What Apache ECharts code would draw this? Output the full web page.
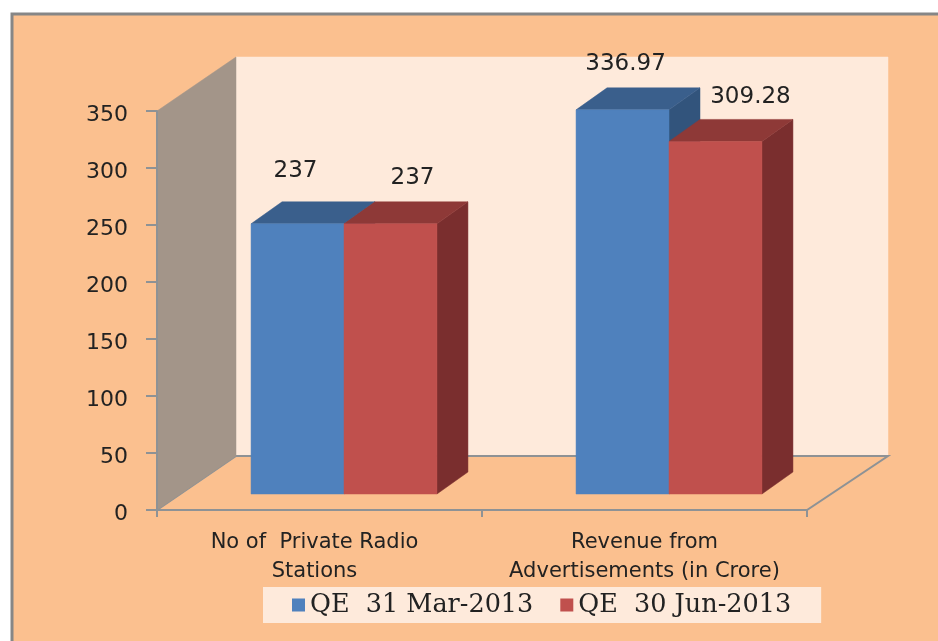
<!DOCTYPE html>
<html><head><meta charset="utf-8">
<style>html,body{margin:0;padding:0;background:#fff}#c{width:938px;height:641px}</style>
<script src="https://cdn.jsdelivr.net/npm/echarts@6/dist/echarts.min.js"></script>
</head><body><div id="c"></div>
<script>
const categories = ['No of  Private Radio\nStations', 'Revenue from\nAdvertisements (in Crore)'];
const seriesNames = ['QE  31 Mar-2013', 'QE  30 Jun-2013'];
const valuesMar = [237, 336.97];
const valuesJun = [237, 309.28];
const yTicks = {min: 0, max: 350, interval: 50};

const WALL = {dxLeft: 79, dxRight: 81, dy: -54};     // full depth of the 3D box
const BAR = {dx: 31, dy: -22, shiftX: 24.5, shiftY: -16, widthRatio: 0.286};
const LABEL_OFFSETS = [
  [[-2, -53], [3, -46]],
  [[22, -46], [35, -44]]
];
const CATEGORY_LABEL_RIGHT_PAD = [10, 0];
const poly = (pts, fill, stroke) => ({
  type: 'polygon', shape: {points: pts},
  style: {fill, stroke: stroke || fill, lineWidth: stroke ? 2 : 0.5}
});

function wallRender(params) {
  const g = params.coordSys, l = g.x, r = g.x + g.width, t = g.y, b = g.y + g.height;
  const dl = WALL.dxLeft, dr = WALL.dxRight, dy = WALL.dy;
  return {type: 'group', children: [
    poly([[l+dl,t+dy],[r+dr,t+dy],[r+dr,b+dy],[l+dl,b+dy]], '#FEEADB'),
    poly([[l,b],[r,b],[r+dr,b+dy],[l+dl,b+dy]], '#FBC08F', '#8E9295'),
    poly([[l,b],[l,t],[l+dl,t+dy],[l+dl,b+dy]], '#A39589')
  ]};
}

function barRender(side, colors) {
  return function (params, api) {
    const i = api.value(0), v = api.value(1);
    const w = api.size([1, 0])[0] * BAR.widthRatio;
    const top = api.coord([i, v]), base = api.coord([i, 0]);
    const x0 = top[0] + BAR.shiftX + (side === 0 ? -w : 0), x1 = x0 + w;
    const y0 = top[1] + BAR.shiftY, y1 = base[1] + BAR.shiftY;
    const dx = BAR.dx, dy = BAR.dy;
    const off = LABEL_OFFSETS[side][i];
    return {type: 'group', children: [
      poly([[x1,y0],[x1+dx,y0+dy],[x1+dx,y1+dy],[x1,y1]], colors.side),
      poly([[x0,y0],[x0+dx,y0+dy],[x1+dx,y0+dy],[x1,y0]], colors.top),
      poly([[x0,y0],[x1,y0],[x1,y1],[x0,y1]], colors.front),
      {type: 'text', z2: 10, style: {
        text: String(v), x: (x0 + x1) / 2 + off[0], y: y0 + off[1],
        align: 'center', verticalAlign: 'middle',
        font: '23px "DejaVu Sans"', fill: '#222'
      }}
    ]};
  };
}

const chart = echarts.init(document.getElementById('c'), null, {renderer: 'canvas'});
chart.setOption({
  animation: false,
  backgroundColor: '#fff',
  graphic: [{type: 'rect', z: -10, silent: true,
    shape: {x: 12, y: 14, width: 960, height: 660},
    style: {fill: '#FBC08F', stroke: '#868686', lineWidth: 3}}],
  grid: {left: 157, top: 111, width: 650, height: 399},
  xAxis: {type: 'category', z: 5,
    data: categories.map((c, i) => ({value: c, textStyle: {padding: [0, CATEGORY_LABEL_RIGHT_PAD[i], 0, 0]}})),
    axisLine: {lineStyle: {color: '#8E9295', width: 2}},
    axisTick: {show: true, length: 7, lineStyle: {color: '#8E9295', width: 2}},
    axisLabel: {interval: 0, margin: 18, lineHeight: 29, color: '#222',
      fontFamily: 'DejaVu Sans', fontSize: 21}},
  yAxis: {type: 'value', min: yTicks.min, max: yTicks.max, interval: yTicks.interval, z: 5,
    splitLine: {show: false},
    axisLine: {show: true, lineStyle: {color: '#8E9295', width: 2}},
    axisTick: {show: true, length: 11, lineStyle: {color: '#8E9295', width: 2}},
    axisLabel: {margin: 29, verticalAlign: 'top', lineHeight: 8, color: '#222', fontFamily: 'DejaVu Sans', fontSize: 22}},
  legend: {
    data: seriesNames, left: 263, top: 587,
    backgroundColor: '#FEEADB', padding: [5, 30, 5, 29], itemGap: 27,
    itemWidth: 13, itemHeight: 13, icon: 'rect',
    textStyle: {fontFamily: 'DejaVu Serif', fontSize: 25.5, lineHeight: 20, color: '#222'}
  },
  series: [
    {type: 'custom', name: 'walls', z: 1, silent: true, coordinateSystem: 'cartesian2d',
      data: [[0, 0]], renderItem: wallRender},
    {type: 'custom', name: seriesNames[0], z: 2, coordinateSystem: 'cartesian2d',
      itemStyle: {color: '#4F81BD'},
      data: valuesMar.map((v, i) => [i, v]),
      renderItem: barRender(0, {front: '#4F81BD', top: '#3A5F8C', side: '#32547C'})},
    {type: 'custom', name: seriesNames[1], z: 3, coordinateSystem: 'cartesian2d',
      itemStyle: {color: '#C0504D'},
      data: valuesJun.map((v, i) => [i, v]),
      renderItem: barRender(1, {front: '#C0504D', top: '#8E3937', side: '#7A2E2E'})}
  ]
});
</script></body></html>
